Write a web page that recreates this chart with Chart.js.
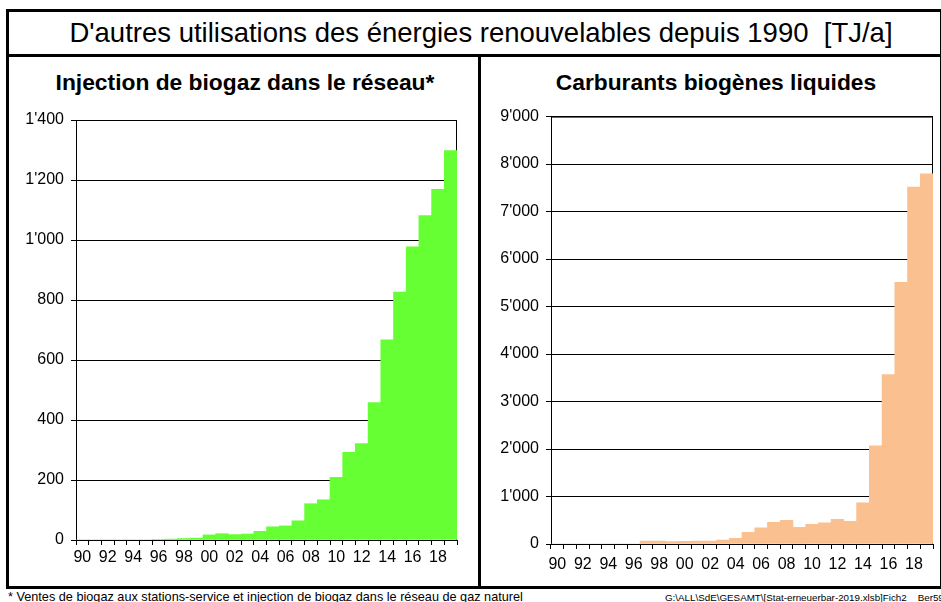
<!DOCTYPE html>
<html>
<head>
<meta charset="utf-8">
<script src="https://cdn.jsdelivr.net/npm/chart.js@4"></script>
<style>
    body { margin: 0; width: 941px; height: 602px; background: #fff; position: relative; overflow: hidden;
           font-family: "Liberation Sans", Arial, sans-serif; color: #000; }
    .abs { position: absolute; }
    #frame { left: 6px; top: 9px; width: 937px; height: 580px; border: 3px solid #000; box-sizing: border-box; }
    #titleLine { left: 6px; top: 54px; width: 937px; height: 3px; background: #000; }
    #divider { left: 478px; top: 54px; width: 3px; height: 533px; background: #000; }
    #title { left: 0; width: 962px; top: 17px; text-align: center; font-size: 27.5px; line-height: 32px; white-space: nowrap; }
    .sub { top: 69px; font-weight: bold; font-size: 22.8px; line-height: 26px; text-align: center; white-space: nowrap; }
    #sub1 { left: 10px; width: 470px; }
    #sub2 { left: 481px; width: 470px; }
    #foot1 { left: 8px; top: 590px; font-size: 12.7px; line-height: 15px; white-space: nowrap; }
    #foot2 { left: 665px; top: 591px; font-size: 9.8px; line-height: 13px; white-space: nowrap; }
    canvas { position: absolute; }
</style>
</head>
<body>
<div id="frame" class="abs"></div>
<div id="titleLine" class="abs"></div>
<div id="divider" class="abs"></div>
<div id="title" class="abs">D'autres utilisations des énergies renouvelables depuis 1990&nbsp; [TJ/a]</div>
<div id="sub1" class="abs sub">Injection de biogaz dans le réseau*</div>
<div id="sub2" class="abs sub">Carburants biogènes liquides</div>
<div id="foot1" class="abs">* Ventes de biogaz aux stations-service et injection de biogaz dans le réseau de gaz naturel</div>
<div id="foot2" class="abs">G:\ALL\SdE\GESAMT\[Stat-erneuerbar-2019.xlsb]Fich2&nbsp;&nbsp;&nbsp; Ber59</div>

<canvas id="biogazChart" width="455" height="480" style="left:20px; top:100px;"></canvas>
<canvas id="carburantsChart" width="451" height="480" style="left:490px; top:100px;"></canvas>

<script>
// years 1990 - 2019
const years = ['90', '91', '92', '93', '94', '95', '96', '97', '98', '99',
               '00', '01', '02', '03', '04', '05', '06', '07', '08', '09',
               '10', '11', '12', '13', '14', '15', '16', '17', '18', '19'];

// Injection de biogaz dans le réseau [TJ/a]
const biogaz = [0, 0, 0, 0, 0, 0, 2, 3, 5, 6,
                17, 21, 18, 20, 29, 44, 47, 64, 121, 134,
                209, 292, 321, 458, 667, 826, 977, 1081, 1169, 1298];

// Carburants biogènes liquides [TJ/a]
const carburants = [0, 0, 0, 0, 0, 0, 0, 60, 60, 50,
                    55, 60, 60, 80, 120, 245, 343, 455, 497, 350,
                    413, 448, 520, 480, 865, 2065, 3565, 5512, 7515, 7794];

const biogazTicks = [0, 200, 400, 600, 800, 1000, 1200, 1400];
const carburantsTicks = [0, 1000, 2000, 3000, 4000, 5000, 6000, 7000, 8000, 9000];

const FONT = { family: '"Liberation Sans", Arial, sans-serif', size: 16 };

function formatThousands(v) {
    return String(v).replace(/\B(?=(\d{3})+(?!\d))/g, "'");
}

// top and right edge of the plot area
const plotFrame = {
    id: 'plotFrame',
    beforeDatasetsDraw(chart) {
        const { ctx, chartArea: a } = chart;
        ctx.save();
        ctx.strokeStyle = '#000';
        ctx.lineWidth = 1;
        ctx.beginPath();
        ctx.moveTo(a.left, a.top + 0.5);
        ctx.lineTo(a.right - 0.5, a.top + 0.5);
        ctx.lineTo(a.right - 0.5, a.bottom);
        ctx.stroke();
        ctx.restore();
    }
};

function makeChart(id, data, color, ticks, opts) {
    const ctx = document.getElementById(id).getContext('2d');
    return new Chart(ctx, {
        type: 'bar',
        data: {
            labels: years,
            datasets: [{
                data,
                backgroundColor: color,
                borderWidth: 0,
                categoryPercentage: 1,
                barPercentage: 1
            }]
        },
        options: {
            responsive: false,
            animation: false,
            layout: { padding: { top: opts.padTop, right: opts.padRight, left: 0, bottom: 0 } },
            plugins: {
                legend: { display: false },
                tooltip: { enabled: false }
            },
            scales: {
                x: {
                    afterFit: s => { s.height = opts.xHeight; },
                    grid: { display: true, drawOnChartArea: false, drawTicks: true, tickLength: 5, color: '#000', offset: true },
                    border: { color: '#000', width: 1 },
                    ticks: {
                        autoSkip: false,
                        maxRotation: 0,
                        padding: opts.xPad,
                        color: '#000',
                        font: FONT,
                        callback: (v, i) => (i % 2 === 0 ? years[i] : '')
                    }
                },
                y: {
                    min: ticks[0],
                    max: ticks[ticks.length - 1],
                    afterFit: s => { s.width = opts.yWidth; },
                    afterBuildTicks: s => { s.ticks = ticks.map(v => ({ value: v })); },
                    grid: { color: '#000', lineWidth: 1, tickLength: 5 },
                    border: { color: '#000', width: 1 },
                    ticks: {
                        padding: 7,
                        color: '#000',
                        font: FONT,
                        callback: v => formatThousands(v)
                    }
                }
            }
        },
        plugins: [plotFrame]
    });
}

makeChart('biogazChart', biogaz, '#66FF33', biogazTicks,
    { padTop: 20, padRight: 18, xHeight: 40, yWidth: 56, xPad: 3 });
makeChart('carburantsChart', carburants, '#FAC090', carburantsTicks,
    { padTop: 15, padRight: 8, xHeight: 36, yWidth: 61, xPad: 6 });
</script>
</body>
</html>
